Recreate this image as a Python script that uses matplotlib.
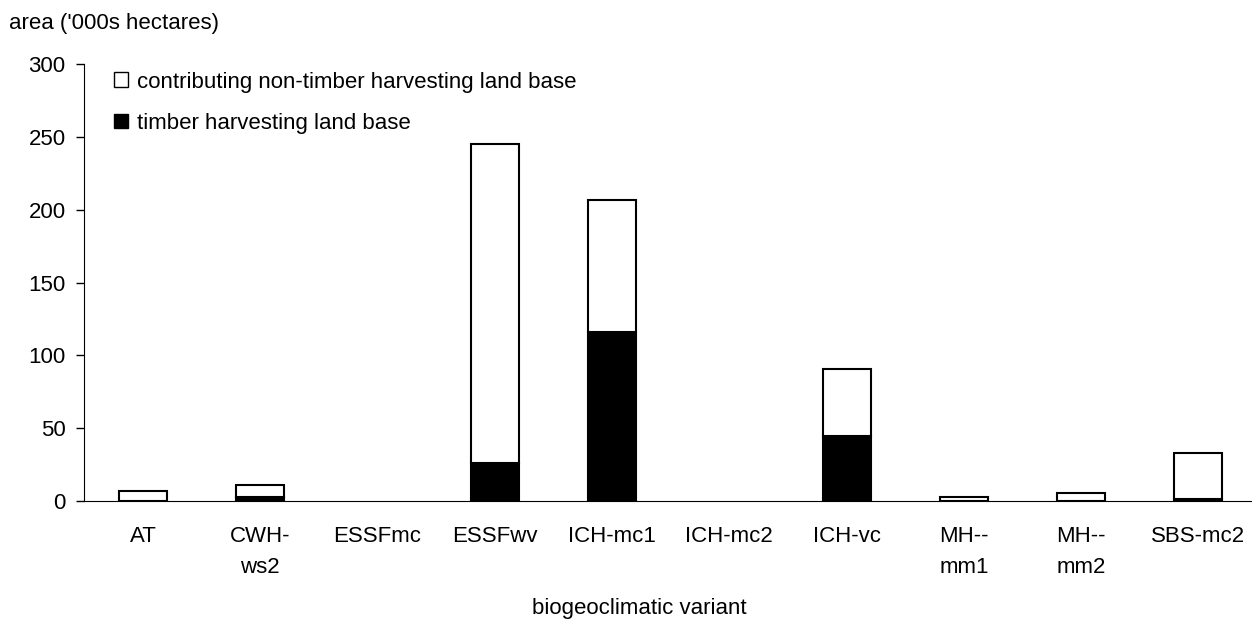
import numpy as np
import matplotlib.pyplot as plt
from matplotlib.patches import Patch

plt.rcParams['font.family'] = ['Liberation Sans', 'DejaVu Sans']

# area by biogeoclimatic variant ('000s ha)
variants = ['AT', 'CWH-\nws2', 'ESSFmc', 'ESSFwv', 'ICH-mc1', 'ICH-mc2',
            'ICH-vc', 'MH--\nmm1', 'MH--\nmm2', 'SBS-mc2']
thlb = [0, 3, 0, 26, 116, 0, 44.5, 0, 0, 1.5]                    # timber harvesting land base
non_thlb = [7, 8, 0, 219.5, 90.5, 0, 46.5, 2.7, 5.5, 31.5]       # contributing non-THLB

x = np.arange(len(variants))
FS = 16

# no outline where a variant has no area at all
total = np.array(thlb) + np.array(non_thlb)
edges = ['black' if t > 0 else 'none' for t in total]

fig = plt.figure(figsize=(12.52, 6.22), dpi=100)
# axes runs slightly past the right edge, as in the source
ax = fig.add_axes((0.0673, 0.1945, 0.9367, 0.702))

ax.bar(x, thlb, width=0.41, color='black', edgecolor=edges, linewidth=1.5)
ax.bar(x, non_thlb, width=0.41, bottom=thlb, color='white', edgecolor=edges, linewidth=1.5)

ax.set_xlim(-0.5, len(variants) - 0.5)
ax.set_ylim(0, 300)
ax.set_yticks(np.arange(0, 301, 50))
ax.set_xticks(x)
ax.set_xticklabels(variants, fontsize=FS, linespacing=1.6)
ax.tick_params(axis='y', labelsize=FS, length=5.5, width=1, direction='out', pad=8)
ax.tick_params(axis='x', length=0, pad=18)

for side in ['top', 'right']:
    ax.spines[side].set_visible(False)

fig.text(0.511, 0.0225, 'biogeoclimatic variant', fontsize=FS, ha='center', va='center')
fig.text(0.007, 0.963, "area ('000s hectares)", fontsize=FS, ha='left', va='center')

handles = [Patch(facecolor='white', edgecolor='black', linewidth=1, label='contributing non-timber harvesting land base'),
           Patch(facecolor='black', edgecolor='black', linewidth=1, label='timber harvesting land base')]
fig.legend(handles=handles, loc='upper left', bbox_to_anchor=(0.091, 0.885), frameon=False,
           fontsize=FS, handlelength=0.63, handleheight=0.63, handletextpad=0.4,
           labelspacing=0.91, borderpad=0, borderaxespad=0)

fig.savefig('out.png', dpi=100)
